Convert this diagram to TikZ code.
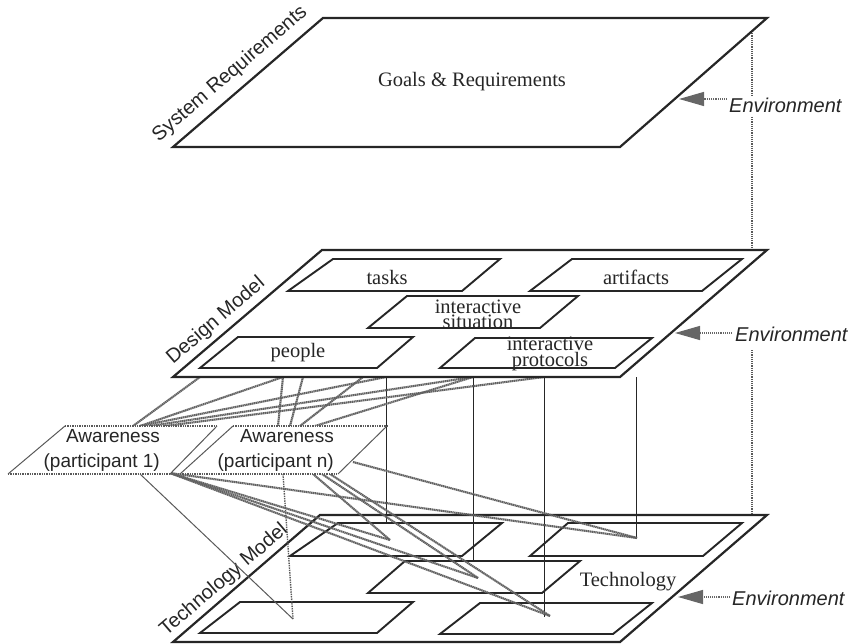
\documentclass[tikz,border=0pt]{standalone}
\usepackage{fontspec}
\setmainfont{Liberation Serif}
\setsansfont{Liberation Sans}
\usetikzlibrary{arrows.meta}
\begin{document}
\begin{tikzpicture}[x=1pt,y=-1pt,
  plane/.style={draw=black!85, line width=2.2pt, fill=white, line join=miter},
  part/.style={draw=black!85, line width=1.9pt, fill=white},
  seriflabel/.style={font=\fontsize{20.5}{13.5}\selectfont, align=center, inner sep=0pt, text=black!85},
  layerlabel/.style={font=\sffamily\fontsize{20}{24}\selectfont, inner sep=0pt, rotate=40.7, text=black!85},
  awaretext/.style={font=\sffamily\fontsize{19}{25}\selectfont, inner sep=0pt, align=right, anchor=east, text=black!85},
  envlabel/.style={font=\sffamily\itshape\fontsize{20}{24}\selectfont, inner sep=0pt, anchor=west, text=black!85},
  envarrow/.style={densely dotted, draw=black!60, line width=1.1pt,
    -{Triangle[length=25pt,width=14pt,color=black!60]}},
  envline/.style={densely dotted, draw=black!65, line width=1.2pt},
  hatch/.style={draw=black!62, line width=2.1pt, dash pattern=on 1.4pt off 0.5pt},
  thinlink/.style={draw=black!85, line width=1pt},
  graylink/.style={draw=black!65, line width=1pt},
  dotlink/.style={draw=black!65, line width=1.4pt, densely dotted},
  awareedge/.style={draw=black!65, line width=1pt},
  awaredot/.style={draw=black!65, line width=1.4pt, densely dotted}
]
\useasboundingbox (0,0) rectangle (854,644);

% ---------- technology layer ----------
\draw[plane] (173,642) -- (620,642) -- (767,515) -- (320,515) -- cycle;
\draw[part] (290,556) -- (462,556) -- (502,523) -- (338,523) -- cycle;
\draw[part] (530,556) -- (703,556) -- (742,523) -- (568,523) -- cycle;
\draw[part] (368,593) -- (542,593) -- (580,561) -- (405,561) -- cycle;
\draw[part] (200,633) -- (377,633) -- (413,602) -- (240,602) -- cycle;
\draw[part] (440,634) -- (613,634) -- (652,603) -- (480,603) -- cycle;
\node[seriflabel] (technology) at (628,582) {Technology};
\node[layerlabel] (techmodel) at (224,580) {Technology Model};

% ---------- environment ----------
\node[envlabel] (env1) at (729,105) {Environment};
\node[envlabel] (env2) at (735,334) {Environment};
\node[envlabel] (env3) at (732,598) {Environment};
\coordinate (tip1) at (679,99);  \coordinate (tail1) at (727,99);
\coordinate (tip2) at (675,333); \coordinate (tail2) at (732,333);
\coordinate (tip3) at (678,597); \coordinate (tail3) at (730,597);
\draw[envarrow] (tail1) -- (tip1);
\draw[envarrow] (tail2) -- (tip2);
\draw[envarrow] (tail3) -- (tip3);
\coordinate (e0) at (752,31);  \coordinate (e1) at (752,95);
\coordinate (e2) at (752,117); \coordinate (e3) at (752,250);
\coordinate (e4) at (752,350); \coordinate (e5) at (752,515);
\draw[envline] (e0) -- (e1);
\draw[envline] (e2) -- (e3);
\draw[envline] (e4) -- (e5);

% ---------- anchor points ----------
% design plane, lower edge
\coordinate (d1) at (200,377);
\coordinate (d2) at (283,377);
\coordinate (d3) at (303,377);
\coordinate (d4) at (363,377);
\coordinate (d5) at (386,377);
\coordinate (d6) at (473,377);
\coordinate (d7) at (544,377);
\coordinate (d8) at (636,377);
% technology plane
\coordinate (t1) at (386,523);
\coordinate (t2) at (473,561);
\coordinate (t3) at (544,617);
\coordinate (t4) at (636,538);
\coordinate (t5) at (390,540);
\coordinate (t6) at (478,578);
\coordinate (t7) at (550,616);
\coordinate (t8) at (637,538);
\coordinate (t9) at (293,619);
% awareness boxes
\coordinate (a1) at (133,426);
\coordinate (a2) at (140,426);
\coordinate (a3) at (150,426);
\coordinate (a4) at (165,426);
\coordinate (a5) at (170,473);
\coordinate (a6) at (140,474);
\coordinate (n1) at (278,426);
\coordinate (n2) at (290,426);
\coordinate (n3) at (300,426);
\coordinate (n4) at (315,426);
\coordinate (n5) at (283,474);
\coordinate (n6) at (313,474);
\coordinate (n7) at (322,474);
\coordinate (n8) at (330,474);
\coordinate (n9) at (353,462);

% ---------- design to technology ----------
\draw[thinlink] (d5) -- (t1);
\draw[thinlink] (d6) -- (t2);
\draw[thinlink] (d7) -- (t3);
\draw[thinlink] (d8) -- (t4);

% ---------- awareness to technology ----------
\draw[graylink] (a6) -- (t9);
\draw[dotlink] (n5) -- (t9);
\draw[hatch] (a5) -- (t5);
\draw[hatch] (a5) -- (t6);
\draw[hatch] (a5) -- (t7);
\draw[hatch] (a5) -- (t8);
\draw[hatch] (n9) -- (t8);
\draw[hatch] (n6) -- (t5);
\draw[hatch] (n7) -- (t6);
\draw[hatch] (n8) -- (t7);

% ---------- awareness to design ----------
\draw[hatch] (a1) -- (d1);
\draw[hatch] (a2) -- (d2);
\draw[hatch] (a2) -- (d5);
\draw[hatch] (a3) -- (d6);
\draw[hatch] (a4) -- (d7);
\draw[hatch] (n1) -- (d2);
\draw[hatch] (n2) -- (d3);
\draw[hatch] (n3) -- (d4);
\draw[hatch] (n4) -- (d6);

% ---------- awareness boxes ----------
\fill[white] (8,474) -- (170,474) -- (217,426) -- (65,426) -- cycle;
\draw[awareedge] (8,474) -- (65,426);
\draw[awareedge] (170,474) -- (217,426);
\draw[awaredot] (65,426) -- (217,426);
\draw[awaredot] (8,474) -- (170,474);
\node[awaretext] (aware1) at (160,450) {Awareness\\(participant 1)};

\fill[white] (180,474) -- (338,474) -- (387,426) -- (233,426) -- cycle;
\draw[awareedge] (180,474) -- (233,426);
\draw[awareedge] (338,474) -- (387,426);
\draw[awaredot] (233,426) -- (387,426);
\draw[awaredot] (180,474) -- (338,474);
\node[awaretext] (awaren) at (334,450) {Awareness\\(participant n)};

% ---------- design layer ----------
\draw[plane] (173,377) -- (620,377) -- (767,250) -- (322,250) -- cycle;
\draw[part] (288,291) -- (462,291) -- (500,259) -- (333,259) -- cycle;
\draw[part] (530,291) -- (702,291) -- (742,259) -- (572,259) -- cycle;
\draw[part] (368,328) -- (540,328) -- (578,296) -- (407,296) -- cycle;
\draw[part] (200,368) -- (377,368) -- (413,337) -- (238,337) -- cycle;
\draw[part] (440,368) -- (615,368) -- (652,338) -- (475,338) -- cycle;
\node[seriflabel] (tasks) at (387,277) {tasks};
\node[seriflabel] (artifacts) at (636,277) {artifacts};
\node[seriflabel] (situation) at (478,314) {interactive\\situation};
\node[seriflabel] (people) at (298,353) {people};
\node[seriflabel] (protocols) at (550,354) {interactive\\protocols};
\node[layerlabel] (designmodel) at (216,321) {Design Model};

% ---------- requirements layer ----------
\draw[plane] (173,147) -- (620,147) -- (767,18) -- (323,18) -- cycle;
\node[seriflabel] (goals) at (472,82) {Goals \& Requirements};
\node[layerlabel] (sysreq) at (230,74) {System Requirements};
\end{tikzpicture}
\end{document}
